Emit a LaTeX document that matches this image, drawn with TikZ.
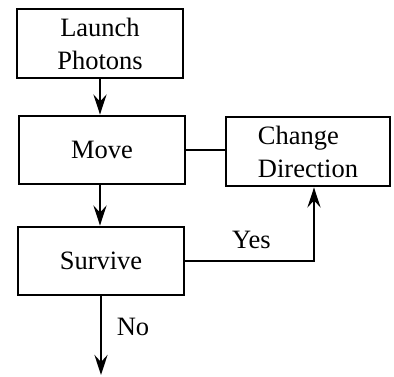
\documentclass[tikz,border=0pt]{standalone}
\usepackage{fontspec}
\setmainfont{Liberation Serif}
\usetikzlibrary{arrows.meta}

\begin{document}
\begin{tikzpicture}[x=1pt,y=1pt,
		box/.style={draw, line width=2.8pt, minimum width=166pt, minimum height=68pt, inner sep=0pt, align=center, font=\fontsize{26.5}{33}\selectfont},
		lbl/.style={inner sep=0pt, font=\fontsize{26.5}{33}\selectfont},
		flow/.style={line width=2.8pt, -{Stealth[length=20pt,width=13pt,inset=7pt]}}]
	\useasboundingbox (0,0) rectangle (394,376);
	\node[box, minimum height=69pt] (launch) at (100,332.5) {Launch\\Photons};
	\node[box] (move) at (102,226) {Move};
	\node[box, minimum width=164pt, minimum height=69pt, align=left] (change) at (308,224.5) {Change\\Direction};
	\node[box] (survive) at (101,115) {Survive};
	\coordinate (out) at (101,1);
	\coordinate (turn) at (314,0);
	\node[lbl] (yes) at (251.5,136) {Yes};
	\node[lbl] (no) at (133,49) {No};
	\draw[flow] (launch.south) -- (launch.south |- move.north);
	\draw[line width=2.8pt] (move.east) -- (move.east -| change.west);
	\draw[flow] (move.south -| launch.south) -- (launch.south |- survive.north);
	\draw[flow] (survive.east) -| (turn |- change.south);
	\draw[flow] (survive.south) -- (out);
\end{tikzpicture}
\end{document}
